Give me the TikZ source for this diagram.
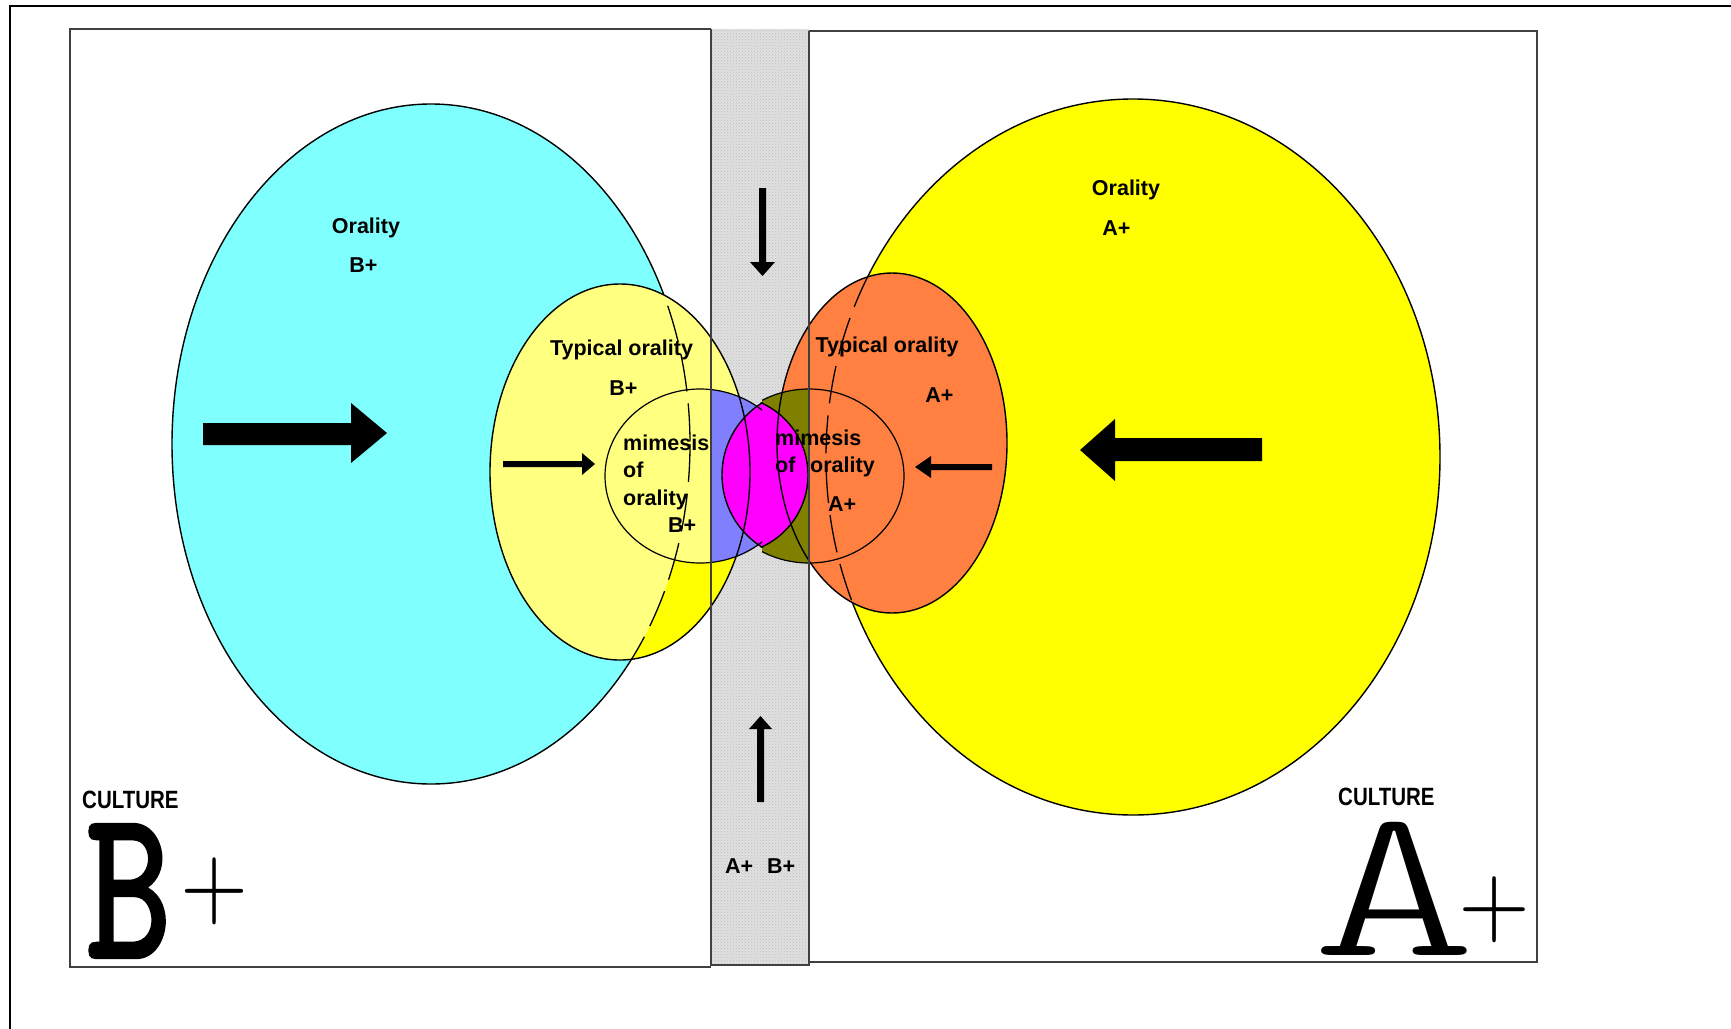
\documentclass[tikz,border=0pt]{standalone}
\usepackage{fontspec}
\usepackage{graphicx}
\setmainfont{Liberation Sans}
\newfontfamily\monofam{Latin Modern Mono Light}
\newfontfamily\monobold[FakeBold=2]{Latin Modern Mono}
\newfontfamily\lmfam{Latin Modern Roman}
\usetikzlibrary{patterns}
\definecolor{cyanC}{HTML}{80FFFF}
\definecolor{yellowC}{HTML}{FFFF00}
\definecolor{lyC}{HTML}{FFFF80}
\definecolor{orangeC}{HTML}{FF8040}
\definecolor{blueC}{HTML}{8080FF}
\definecolor{oliveC}{HTML}{808000}
\definecolor{magC}{HTML}{FF00FF}
\definecolor{stripC}{HTML}{E0E0E0}
\tikzset{
  lbl/.style={font=\fontsize{21.5}{24}\selectfont\bfseries, inner sep=0pt, anchor=base},
  lblw/.style={lbl, anchor=base west},
  cult/.style={font=\fontsize{25}{28}\selectfont\bfseries, inner sep=0pt, anchor=base west},
  outl/.style={draw=black, line width=1.4pt},
  hidden/.style={draw=black, line width=1.3pt, dash pattern=on 38pt off 12pt},
  frameline/.style={draw=black!75, line width=1.6pt},
  blockarrow/.style={fill=black},
}
\begin{document}
\begin{tikzpicture}[x=1pt,y=-1pt]
\useasboundingbox (0,0) rectangle (1731,1028);
\fill[white] (0,0) rectangle (1731,1028);
% outer frame
\draw[line width=2.8pt] (10,1040) -- (10,6) -- (1745,6);
% strip
\fill[stripC] (711,29) rectangle (809,965);
\fill[pattern=crosshatch dots, pattern color=black!25] (711,29) rectangle (809,965);
% big ellipses
\path[fill=cyanC, outl] (431,444) ellipse [x radius=259, y radius=340];
\path[fill=yellowC, outl] (1133,457) ellipse [x radius=307, y radius=358];
\path[fill=lyC] (620,472) ellipse [x radius=130, y radius=188];
% pure yellow patch inside the light-yellow ellipse
\begin{scope}
  \clip (620,472) ellipse [x radius=130, y radius=188];
  \clip (590,476) rectangle (745,700);
  \fill[yellowC] (590,476) rectangle (745,700);
  \fill[lyC] (431,444) ellipse [x radius=259, y radius=340];
  \fill[lyC] (700,476) ellipse [x radius=95, y radius=87];
\end{scope}
\path[fill=orangeC] (892,443) ellipse [x radius=115, y radius=170];
% blue and olive parts of the circles inside the strip
\begin{scope}
  \clip (711,0) rectangle (762,1028);
  \fill[blueC] (700,476) ellipse [x radius=95, y radius=87];
\end{scope}
\begin{scope}
  \clip (762,0) rectangle (809,1028);
  \fill[oliveC] (809,476) ellipse [x radius=95, y radius=87];
\end{scope}
% magenta lens
\begin{scope}
  \clip (807,475) circle [radius=85];
  \fill[magC] (729,475) circle [radius=79];
\end{scope}
% hidden outlines seen through
\begin{scope}
  \clip (620,472) ellipse [x radius=130, y radius=188];
  \draw[hidden] (431,444) ellipse [x radius=259, y radius=340];
\end{scope}
\begin{scope}
  \clip (892,443) ellipse [x radius=115, y radius=170];
  \draw[hidden] (1133,457) ellipse [x radius=307, y radius=358];
\end{scope}
% outlines
\draw[outl] (620,472) ellipse [x radius=130, y radius=188];
\draw[outl] (892,443) ellipse [x radius=115, y radius=170];
\begin{scope}
  \clip (0,0) rectangle (762,1028);
  \draw[outl, line width=1.2pt] (700,476) ellipse [x radius=95, y radius=87];
\end{scope}
\begin{scope}
  \clip (762,0) rectangle (1731,1028);
  \draw[outl, line width=1.2pt] (809,476) ellipse [x radius=95, y radius=87];
\end{scope}
\begin{scope}
  \clip (807,475) circle [radius=86];
  \draw[outl] (729,475) circle [radius=79];
\end{scope}
\begin{scope}
  \clip (729,475) circle [radius=80];
  \draw[outl] (807,475) circle [radius=85];
\end{scope}
% boxes and strip lines
\draw[frameline] (711,29) -- (70,29) -- (70,967) -- (711,967);
\draw[frameline] (809,31) -- (1537,31) -- (1537,962) -- (809,962);
\draw[frameline] (711,29) -- (711,965) -- (809,965) -- (809,31);
% arrows
\fill[blockarrow] (203,423) -- (351,423) -- (351,403) -- (387,433) -- (351,463) -- (351,445) -- (203,445) -- cycle;
\fill[blockarrow] (1262,438) -- (1115,438) -- (1115,419) -- (1080,450) -- (1115,481) -- (1115,461) -- (1262,461) -- cycle;
\fill[blockarrow] (503,461) -- (582,461) -- (582,453) -- (595,464) -- (582,475) -- (582,467) -- (503,467) -- cycle;
\fill[blockarrow] (992,464) -- (931,464) -- (931,456) -- (915,467) -- (931,478) -- (931,470) -- (992,470) -- cycle;
\fill[blockarrow] (759,188) -- (766,188) -- (766,262) -- (775,262) -- (762.5,276) -- (750,262) -- (759,262) -- cycle;
\fill[blockarrow] (757,802) -- (764,802) -- (764,729) -- (772,729) -- (760.5,716) -- (749,729) -- (757,729) -- cycle;
% labels
\node[lbl] (oralB) at (366,233) {Orality};
\node[lbl] (oralBp) at (363.5,272) {B+};
\node[lbl] (oralA) at (1126,195) {Orality};
\node[lbl] (oralAp) at (1116.5,235) {A+};
\node[lbl] (typB) at (621.5,355) {Typical orality};
\node[lbl] (typBp) at (623.5,395) {B+};
\node[lbl] (typA) at (887,352) {Typical orality};
\node[lbl] (typAp) at (939.5,402) {A+};
\node[lblw] (mimB1) at (623,450) {mimesis};
\node[lblw] (mimB2) at (623,477) {of};
\node[lblw] (mimB3) at (623,505) {orality};
\node[lblw] (mimB4) at (668,532) {B+};
\node[lblw] (mimA1) at (775,445) {mimesis};
\node[lblw] (mimA2) at (775,472) {of};
\node[lblw] (mimA3) at (810,472) {orality};
\node[lblw] (mimA4) at (828,511) {A+};
\node[lblw] (stripA) at (725,873) {A+};
\node[lblw] (stripB) at (767,873) {B+};
\node[cult] (cultB) at (82,808) {\scalebox{0.82}[1]{CULTURE}};
\node[cult] (cultA) at (1338,805) {\scalebox{0.82}[1]{CULTURE}};
\node[anchor=base west, inner sep=0pt] (bigB) at (86,957)
  {\monobold\resizebox{85pt}{132pt}{B}\hspace{9pt}\raisebox{40.4pt}{\lmfam\resizebox*{68pt}{67pt}{+}}};
\node[anchor=base west, inner sep=0pt] (bigA) at (1312,955)
  {\monofam\resizebox{164pt}{133pt}{A}\hspace{-18pt}\raisebox{20.3pt}{\lmfam\resizebox*{72pt}{66pt}{+}}};
\end{tikzpicture}
\end{document}
